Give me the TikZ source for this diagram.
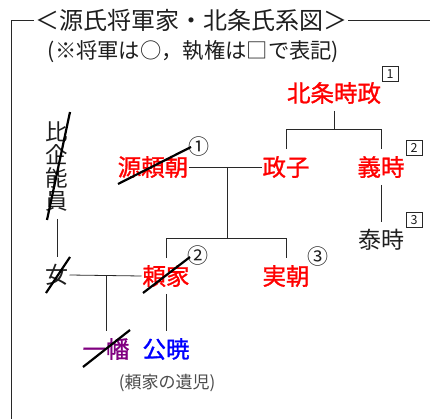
\documentclass[tikz,border=0pt]{standalone}
\usepackage{fontspec}
\setmainfont{Noto Sans CJK JP}
\newfontfamily\jpbold[FakeBold=1.2]{Noto Sans CJK JP}
\definecolor{lin}{RGB}{40,40,40}
\definecolor{txt}{RGB}{30,30,30}
\definecolor{purp}{RGB}{128,0,128}
\begin{document}
\begin{tikzpicture}[x=1pt,y=-1pt,
  every node/.style={inner sep=0pt, outer xsep=1pt, outer ysep=7pt},
  red name/.style={font=\jpbold\fontsize{23.5}{24}\selectfont, text=red},
  plain name/.style={font=\fontsize{23}{24}\selectfont, text=txt},
  numbox/.style={draw=lin, line width=0.6pt, minimum width=16pt, minimum height=15pt, outer sep=0pt, font=\fontsize{12.5}{12.5}\selectfont, text=txt},
  circnum/.style={font=\fontsize{21}{21}\selectfont, text=txt, outer sep=0pt},
  conn/.style={draw=lin, line width=0.8pt},
  strike/.style={draw=black, line width=2.2pt},
]
\useasboundingbox (0,0) rectangle (430,419);

% frame and title
\coordinate (fl) at (11,20);
\coordinate (fb) at (11,419);
\coordinate (fr) at (430,20);
\draw[conn] (fr) -- (fl) -- (fb);
\node[font=\fontsize{24}{25}\selectfont, text=txt, fill=white, inner xsep=1pt, inner ysep=1pt, outer sep=0pt, anchor=west] (title) at (34,20) {＜源氏将軍家・北条氏系図＞};
\node[font=\fontsize{21.3}{21.3}\selectfont, text=txt, outer sep=0pt] (sub) at (193.5,52) {(※将軍は○，執権は□で表記)};

% people
\node[red name] (tokimasa) at (334,93) {北条時政};
\node[red name] (masako) at (286,167) {政子};
\node[red name] (yoshitoki) at (381,167) {義時};
\node[plain name] (yasutoki) at (381,240) {泰時};
\node[red name] (yoritomo) at (153,167) {源頼朝};
\node[plain name, align=center, font=\fontsize{22.5}{23.3}\selectfont] (hiki) at (57,166.5) {比\\企\\能\\員};
\node[plain name] (onna) at (57,275) {女};
\node[red name] (yoriie) at (166,276) {頼家};
\node[red name] (sanetomo) at (286,276) {実朝};
\node[red name, text=purp] (ichiman) at (106,349) {一幡};
\node[red name, text=blue] (kugyo) at (166,349) {公暁};
\node[font=\fontsize{17}{17}\selectfont, text=txt!80] (iji) at (167,383) {(頼家の遺児)};

% markers
\node[numbox] (b1) at (390,74) {1};
\node[numbox] (b2) at (414,148) {2};
\node[numbox] (b3) at (414,220) {3};
\node[circnum] (c1) at (199,147) {①};
\node[circnum] (c2) at (198,256) {②};
\node[circnum] (c3) at (318,257) {③};

% connectors
\coordinate (j1) at (334,129);
\draw[conn] (tokimasa.south) -- (j1);
\draw[conn] (masako.north) -- (masako.north |- j1) -- (yoshitoki.north |- j1) -- (yoshitoki.north);
\draw[conn] (yoshitoki.south) -- (yasutoki.north);
\draw[conn] (yoritomo.east) -- (masako.west);
\coordinate (j2) at (227,167);
\coordinate (j3) at (227,238);
\draw[conn] (j2) -- (j3);
\draw[conn] (yoriie.north) -- (yoriie.north |- j3) -- (sanetomo.north |- j3) -- (sanetomo.north);
\draw[conn] (hiki.south) -- (onna.north);
\draw[conn] (onna.east) -- (yoriie.west);
\coordinate (j4) at (106,275);
\draw[conn] (j4) -- (ichiman.north);
\draw[conn] (yoriie.south) -- (kugyo.north);

% strike-throughs
\draw[strike] (118,184) -- (191,147);
\draw[strike] (70,112) -- (47,220);
\draw[strike] (46,293) -- (70,257);
\draw[strike] (143,293) -- (190,257);
\draw[strike] (83,367) -- (130,330);
\end{tikzpicture}
\end{document}
